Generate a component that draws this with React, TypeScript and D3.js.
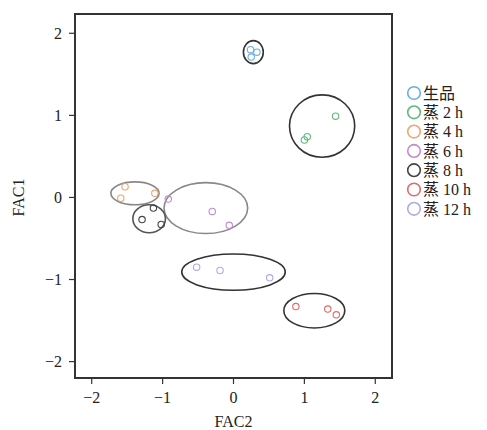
import React from "react";
import * as d3 from "d3";

// group names, in legend order
const groups = ["生品", "蒸 2 h", "蒸 4 h", "蒸 6 h", "蒸 8 h", "蒸 10 h", "蒸 12 h"];
const groupColors = ["#6aaee0", "#5cbb7c", "#f0a56e", "#c58ad2", "#444444", "#e06a6a", "#aeaae6"];

// sample scores [FAC2, FAC1] per group
const scores: [number, number][][] = [
  [[0.24, 1.8], [0.33, 1.77], [0.25, 1.71]],
  [[1.44, 0.99], [1.04, 0.74], [1.0, 0.7]],
  [[-1.53, 0.13], [-1.59, -0.01], [-1.11, 0.05]],
  [[-0.92, -0.02], [-0.3, -0.17], [-0.06, -0.34]],
  [[-1.13, -0.13], [-1.29, -0.27], [-1.02, -0.33]],
  [[0.88, -1.33], [1.33, -1.36], [1.45, -1.43]],
  [[-0.52, -0.85], [-0.19, -0.89], [0.51, -0.98]],
];

// confidence ellipses: center x, center y, radius x, radius y (data units)
const ellipses: [number, number, number, number][] = [
  [0.28, 1.77, 0.14, 0.14],
  [1.25, 0.87, 0.46, 0.38],
  [-1.39, 0.05, 0.34, 0.14],
  [-0.39, -0.13, 0.59, 0.31],
  [-1.19, -0.26, 0.23, 0.17],
  [1.14, -1.38, 0.43, 0.21],
  [0.0, -0.91, 0.73, 0.22],
];
const ellipseColors = ["#333", "#333", "#888", "#888", "#555", "#333", "#333"];

const xTicks = [-2, -1, 0, 1, 2];
const yTicks = [-2, -1, 0, 1, 2];

const W = 487;
const H = 430;
const margin = { left: 75, top: 14, right: 95, bottom: 52 };

export default function App() {
  const x = d3.scaleLinear().domain([-2.236, 2.236]).range([margin.left, W - margin.right]);
  const y = d3.scaleLinear().domain([-2.2, 2.235]).range([H - margin.bottom, margin.top]);
  const serif = "'Liberation Serif', 'Noto Sans CJK SC', serif";
  const fmt = (t: number) => (t < 0 ? "\u2212" + Math.abs(t) : String(t));

  return (
    <svg width={W} height={H} style={{ position: "absolute", left: 0, top: 0, background: "#fff" }}>
      {/* ellipses */}
      {ellipses.map(([cx, cy, rx, ry], i) => (
        <ellipse
          key={"e" + i}
          cx={x(cx)}
          cy={y(cy)}
          rx={x(rx) - x(0)}
          ry={y(0) - y(ry)}
          fill="none"
          stroke={ellipseColors[i]}
          strokeWidth={1.6}
        />
      ))}
      {/* points */}
      {scores.map((pts, g) =>
        pts.map(([px, py], j) => (
          <circle
            key={`p${g}-${j}`}
            cx={x(px)}
            cy={y(py)}
            r={3.2}
            fill="none"
            stroke={groupColors[g]}
            strokeWidth={1.1}
          />
        ))
      )}
      {/* frame */}
      <rect
        x={margin.left}
        y={margin.top}
        width={W - margin.left - margin.right}
        height={H - margin.top - margin.bottom}
        fill="none"
        stroke="#333"
        strokeWidth={2}
      />
      {/* x axis */}
      {xTicks.map((t) => (
        <g key={"xt" + t} transform={`translate(${x(t)},${H - margin.bottom})`}>
          <line y1={0} y2={6} stroke="#333" strokeWidth={1.2} />
          <text y={25} textAnchor="middle" fontSize={16} fontFamily={serif} fill="#222">
            {fmt(t)}
          </text>
        </g>
      ))}
      {/* y axis */}
      {yTicks.map((t) => (
        <g key={"yt" + t} transform={`translate(${margin.left},${y(t)})`}>
          <line x1={0} x2={-6} stroke="#333" strokeWidth={1.2} />
          <text x={-13} dy="0.35em" textAnchor="end" fontSize={16} fontFamily={serif} fill="#222">
            {fmt(t)}
          </text>
        </g>
      ))}
      <text x={x(0)} y={H - 3} textAnchor="middle" fontSize={16} fontFamily={serif} fill="#222">
        FAC2
      </text>
      <text
        transform={`translate(24,${y(0)}) rotate(-90)`}
        textAnchor="middle"
        fontSize={16}
        fontFamily={serif}
        fill="#222"
      >
        FAC1
      </text>
      {/* legend */}
      {groups.map((name, i) => (
        <g key={"lg" + i} transform={`translate(414,${93 + i * 19.3})`}>
          <circle r={6.3} fill="none" stroke={groupColors[i]} strokeWidth={1.6} />
          <text x={9} dy="0.36em" fontSize={16} fontFamily={serif} fill="#222">
            {name}
          </text>
        </g>
      ))}
    </svg>
  );
}
